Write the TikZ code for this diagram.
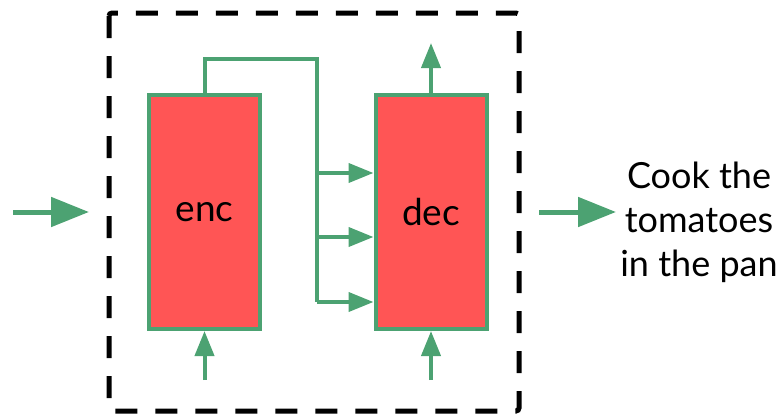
\documentclass[tikz,border=0pt]{standalone}
\usepackage{fontspec}
\setmainfont{Lato}
\usetikzlibrary{arrows.meta}
\definecolor{grn}{HTML}{4CA272}
\definecolor{rd}{HTML}{FF5555}
\tikzset{
  block/.style={draw=grn, fill=rd, line width=4pt, minimum width=111pt, minimum height=234pt, inner sep=0pt, font=\fontsize{37}{40}\selectfont},
  small/.style={draw=grn, line width=4pt, -{Triangle[length=25pt,width=19pt]}},
  big/.style={draw=grn, line width=5pt, -{Triangle[length=38pt,width=29pt]}},
  wire/.style={draw=grn, line width=4pt},
  frame/.style={draw=black, line width=5pt, dash pattern=on 22pt off 18pt, rounded corners=3pt},
}
\begin{document}
\begin{tikzpicture}[x=1pt,y=-1pt]
\useasboundingbox (0,0) rectangle (783,415);
\draw[frame] (109,13) rectangle (519,411);
\node[block] (enc) at (204.5,212) {enc};
\node[block] (dec) at (431,212) {dec};
% encoder to decoder loop
\coordinate (c1) at (204.5,59);
\coordinate (c2) at (317,59);
\coordinate (b1) at (317,173);
\coordinate (b2) at (317,237);
\coordinate (b3) at (317,302);
\draw[wire, line join=miter] (enc.north) -- (c1) -- (c2) -- (b3);
\draw[small] (b1) -- (b1 -| dec.west);
\draw[small] (b2) -- (b2 -| dec.west);
\draw[small] (b3) -- (b3 -| dec.west);
% bottom inputs
\coordinate (ei) at (204.5,380);
\coordinate (di) at (431,380);
\draw[small] (ei) -- (enc.south);
\draw[small] (di) -- (dec.south);
% top output
\coordinate (dt) at (431,43);
\draw[small] (dec.north) -- (dt);
% left input
\coordinate (inA) at (13,212);
\coordinate (inB) at (89,212);
\draw[big] (inA) -- (inB);
% output text
\node[align=center, font=\fontsize{36}{44}\selectfont, inner sep=0pt] (out) at (699,222) {Cook the\\tomatoes\\in the pan};
\coordinate (oA) at (539,212);
\coordinate (oB) at (616,212);
\draw[big] (oA) -- (oB);
\end{tikzpicture}
\end{document}
